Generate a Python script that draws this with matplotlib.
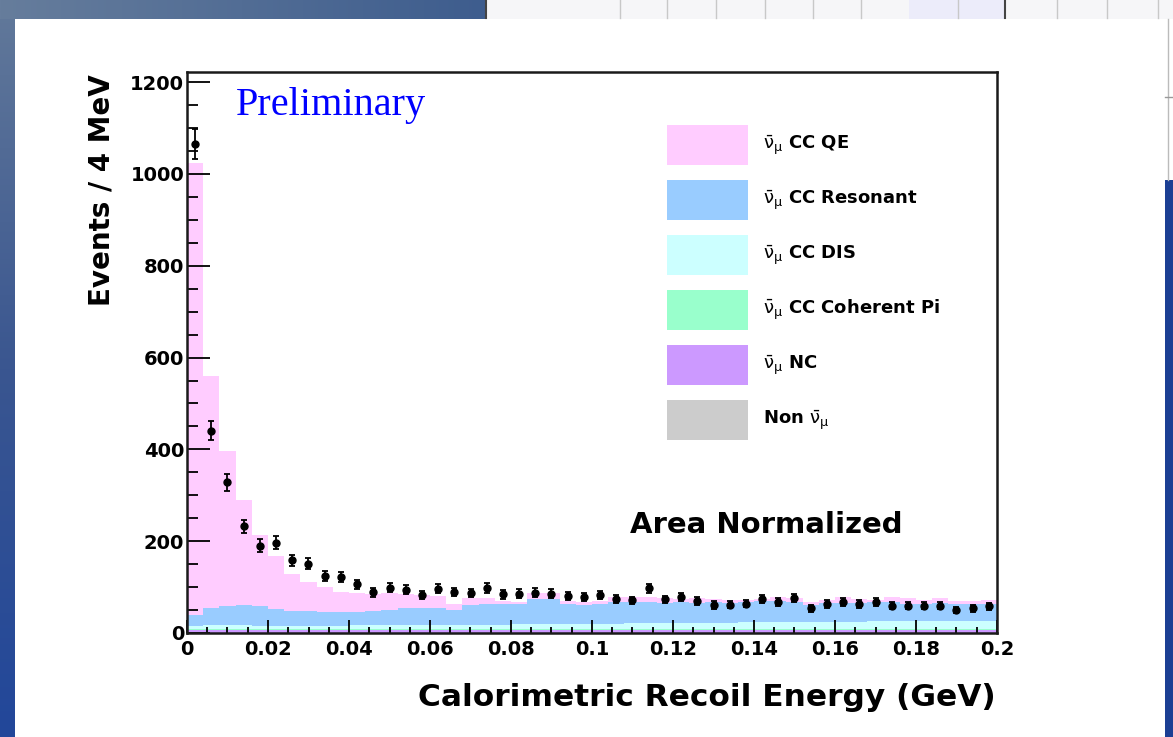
import numpy as np
import matplotlib
matplotlib.use('Agg')
import matplotlib.pyplot as plt
from matplotlib.patches import Rectangle
from matplotlib.colors import LinearSegmentedColormap
from matplotlib.ticker import MultipleLocator, FuncFormatter

# 50 bins of 4 MeV between 0 and 0.2 GeV
bin_width = 0.004
n_bins = 50
edges = np.arange(n_bins + 1) * bin_width
centers = edges[:-1] + bin_width / 2

# Data points (area normalized) and their errors
data_counts = [1065, 441, 328, 232, 190, 197, 158, 151, 125, 122,
               106, 89, 99, 94, 83, 96, 89, 87, 98, 84,
               86, 88, 86, 80, 78, 83, 74, 71, 97, 73,
               78, 70, 61, 62, 64, 74, 67, 77, 54, 63,
               67, 63, 67, 59, 59, 59, 59, 50, 54, 58]
data_errs = [33, 21, 18, 15, 14, 14, 12.5, 12, 11, 11,
             10, 9.5, 10, 9.7, 9, 9.8, 9.4, 9.3, 9.9, 9.2,
             9.3, 9.4, 9.3, 9, 8.8, 9.1, 8.6, 8.4, 9.8, 8.5,
             8.8, 8.4, 7.8, 7.9, 8, 8.6, 8.2, 8.8, 7.3, 7.9,
             8.2, 7.9, 8.2, 7.7, 7.7, 7.7, 7.7, 7.1, 7.3, 7.6]

# Simulated components, stacked bottom to top
non_numu = [0.5] * n_bins
nc = [7, 7, 7, 7, 7, 7, 7, 7, 7, 7,
      7, 7, 7, 7, 7, 7, 7, 7, 7, 7,
      7, 7, 7, 7, 7, 7, 7, 7, 7, 7,
      7, 7, 7, 7, 7, 7, 7, 7, 7, 7,
      7, 7, 7, 7, 7, 7, 7, 7, 7, 7]
coh_pi = [1] * n_bins
dis = [7, 8, 8, 8, 7, 7, 7, 7, 7, 7,
       8, 8, 9, 9, 9, 9, 9, 10, 10, 10,
       11, 11, 11, 12, 12, 12, 12, 13, 13, 13,
       14, 14, 14, 14, 15, 15, 15, 15, 15, 16,
       16, 16, 17, 17, 17, 17, 18, 18, 18, 18]
resonant = [23, 38, 43, 45, 44, 36, 32, 32, 30, 30,
            30, 31, 32, 37, 38, 37, 32, 43, 44, 44,
            43, 54, 54, 42, 41, 42, 48, 45, 45, 44,
            44, 42, 45, 43, 43, 46, 46, 45, 38, 41,
            41, 40, 41, 42, 38, 37, 39, 36, 37, 37]
qe = [986, 506, 337, 229, 155, 116, 80, 63, 54, 44,
      41, 38, 38, 30, 28, 27, 14, 15, 13, 7,
      6, 14, 13, 7, 7, 7, 11, 11, 11, 10,
      7, 11, 6, 6, 6, 5, 8, 8, 6, 6,
      12, 9, 6, 12, 12, 9, 11, 7, 6, 8]

labels = [r'$\bar{\mathrm{\nu}}_{\mathrm{\mu}}$ CC QE', r'$\bar{\mathrm{\nu}}_{\mathrm{\mu}}$ CC Resonant',
          r'$\bar{\mathrm{\nu}}_{\mathrm{\mu}}$ CC DIS', r'$\bar{\mathrm{\nu}}_{\mathrm{\mu}}$ CC Coherent Pi',
          r'$\bar{\mathrm{\nu}}_{\mathrm{\mu}}$ NC', r'Non $\bar{\mathrm{\nu}}_{\mathrm{\mu}}$']
colors = ['#ffccff', '#99ccff', '#ccffff', '#99ffcc', '#cc99ff', '#cccccc']

W, H = 1173, 737
fig = plt.figure(figsize=(W / 100, H / 100), dpi=100)
fig.patch.set_facecolor('white')

def fx(px):
    return px / W

def fy(py):
    return 1 - py / H

# Slide background around the white panel
bg = fig.add_axes([0, 0, 1, 1], zorder=-1)
bg.set_xlim(0, W)
bg.set_ylim(H, 0)
bg.axis('off')
side_cmap = LinearSegmentedColormap.from_list('side', ['#62799a', '#3a5690', '#22479a'])
top_cmap = LinearSegmentedColormap.from_list('top', ['#667d9c', '#3e5d8e'])
bg.imshow(np.linspace(0, 1, 256)[:, None], extent=(0, 15, H, 0), cmap=side_cmap, aspect='auto')
bg.imshow(np.linspace(0, 1, 256)[None, :], extent=(0, 485, 19, 0), cmap=top_cmap, aspect='auto')
bg.add_patch(Rectangle((485, 0), W - 485, 19, color='#f6f6f8', lw=0))
bg.add_patch(Rectangle((909, 0), 96, 19, color='#ececfa', lw=0))
for xl in [620, 667, 716, 765, 813, 861, 958, 1057, 1107, 1158]:
    bg.plot([xl, xl], [0, 18], color='#c8c8c8', lw=1)
for xl in [486, 1005]:
    bg.plot([xl, xl], [0, 18], color='#444444', lw=1.5)
bg.add_patch(Rectangle((1165, 180), 8, H - 180, color='#1c3f94', lw=0))
bg.plot([1168, 1168], [19, 180], color='#bbbbbb', lw=1)
bg.plot([1165, 1173], [97, 97], color='#999999', lw=1)

# Main histogram frame
ax = fig.add_axes([fx(187), fy(633), 810 / W, 561 / H])
ax.set_facecolor('white')

# Stack the simulated components
components = [non_numu, nc, coh_pi, dis, resonant, qe]
stack_colors = colors[::-1]
base = np.zeros(n_bins)
for vals, col in zip(components, stack_colors):
    top = base + np.array(vals, dtype=float)
    ax.stairs(top, edges, baseline=base, fill=True, color=col, lw=0, zorder=1)
    base = top

# Data points with errors
ax.errorbar(centers, data_counts, yerr=data_errs, fmt='o', color='black',
            ms=5, capsize=2.5, elinewidth=1.3, capthick=1.3, zorder=5)

ax.set_xlim(0, 0.2)
ax.set_ylim(0, 1222)

ax.xaxis.set_major_locator(MultipleLocator(0.02))
ax.xaxis.set_minor_locator(MultipleLocator(0.005))
ax.yaxis.set_major_locator(MultipleLocator(200))
ax.yaxis.set_minor_locator(MultipleLocator(50))
ax.xaxis.set_major_formatter(FuncFormatter(lambda v, p: '%g' % round(v, 3)))
ax.yaxis.set_major_formatter(FuncFormatter(lambda v, p: '%d' % v))

ax.tick_params(which='both', direction='in', top=False, right=False, width=1.3, color='black')
ax.tick_params(axis='y', which='major', length=16.5, pad=2)
ax.tick_params(axis='y', which='minor', length=8)
ax.tick_params(axis='x', which='major', length=9.5, pad=5)
ax.tick_params(axis='x', which='minor', length=4.5)
for lab in ax.get_xticklabels() + ax.get_yticklabels():
    lab.set_fontsize(14)
    lab.set_fontweight('bold')
    lab.set_family('DejaVu Sans')

for sp in ax.spines.values():
    sp.set_linewidth(1.8)
    sp.set_color('#1a1a1a')
    sp.set_zorder(6)

# Axis titles and annotations
fig.text(fx(101), fy(74), 'Events / 4 MeV', rotation=90, ha='center', va='top',
         fontsize=20, fontweight='bold', family='DejaVu Sans')
fig.text(fx(996), fy(697), 'Calorimetric Recoil Energy (GeV)', ha='right', va='center',
         fontsize=22.5, fontweight='bold', family='DejaVu Sans')
fig.text(fx(236), fy(115), 'Preliminary', ha='left', va='baseline',
         fontsize=29, color='#0000ff', family='Liberation Serif')
fig.text(fx(630), fy(525), 'Area Normalized', ha='left', va='center',
         fontsize=21, fontweight='bold', family='DejaVu Sans')

# Legend boxes
row_tops = [125, 180, 235, 290, 345, 400]
for lab, col, yt in zip(labels, colors, row_tops):
    fig.add_artist(Rectangle((fx(667), fy(yt + 40)), 81 / W, 40 / H,
                             transform=fig.transFigure, color=col, lw=0))
    fig.text(fx(763), fy(yt + 20), lab, ha='left', va='center',
             fontsize=13, fontweight='bold', family='DejaVu Sans')

plt.savefig('out.png', dpi=100, facecolor='white')
plt.close()
